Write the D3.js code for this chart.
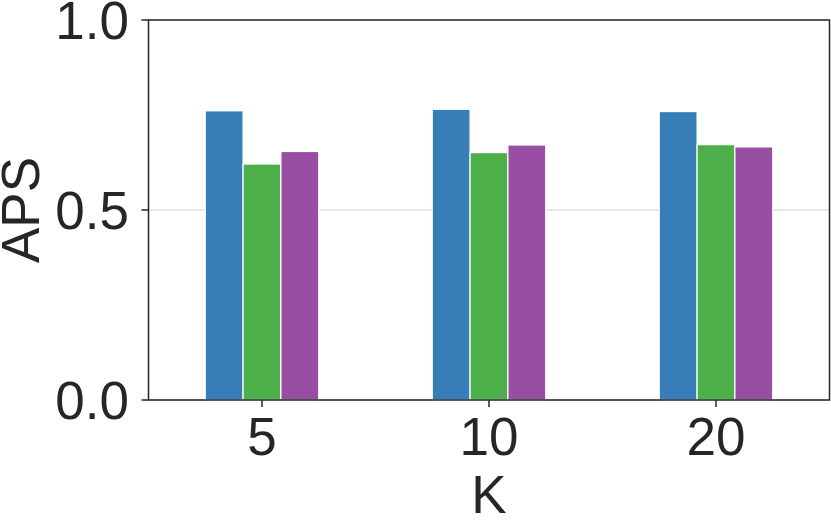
<!DOCTYPE html>
<html><head><meta charset="utf-8">
<script src="https://cdn.jsdelivr.net/npm/d3@7"></script>
<style>body{margin:0;background:#fff}svg{display:block}text{font-family:"Liberation Sans",Arial,sans-serif;fill:#262626}</style>
</head><body>
<svg id="c" width="831" height="524"></svg>
<script>
const categories = ["5", "10", "20"];
const seriesA = [0.761, 0.765, 0.759];
const seriesB = [0.621, 0.651, 0.672];
const seriesC = [0.654, 0.671, 0.666];
const yTicks = [0.0, 0.5, 1.0];
const colors = ["#377eb8", "#4daf4a", "#984ea3"];
const series = [seriesA, seriesB, seriesC];

const svg = d3.select("#c");
const L = 148.5, R = 829.5, T = 20, B = 400;
const x = d3.scaleBand().domain(categories).range([L, R]).padding(0);
const y = d3.scaleLinear().domain([0, 1]).range([B, T]);
const fs = 53;

// gridlines
svg.append("g").selectAll("line").data(yTicks).join("line")
  .attr("x1", L).attr("x2", R).attr("y1", d => y(d)).attr("y2", d => y(d))
  .attr("stroke", "#cccccc").attr("stroke-width", 1.2);

// bars
const w = x.bandwidth() / 6;
series.forEach((s, i) => {
  svg.append("g").selectAll("rect").data(s).join("rect")
    .attr("x", (d, j) => x(categories[j]) + x.bandwidth() / 2 + (i - 1.5) * w)
    .attr("width", w)
    .attr("y", d => y(d))
    .attr("height", d => y(0) - y(d))
    .attr("fill", colors[i])
    .attr("stroke", "#ffffff").attr("stroke-width", 1.2);
});

// frame
svg.append("rect").attr("x", L).attr("y", T).attr("width", R - L).attr("height", B - T)
  .attr("fill", "none").attr("stroke", "#262626").attr("stroke-width", 1.5);

// y ticks
const yt = svg.append("g");
yt.selectAll("line").data(yTicks).join("line")
  .attr("x1", L - 7).attr("x2", L).attr("y1", d => y(d)).attr("y2", d => y(d))
  .attr("stroke", "#262626").attr("stroke-width", 1.5);
yt.selectAll("text").data(yTicks).join("text")
  .attr("x", 129).attr("y", d => y(d) + 19).attr("text-anchor", "end")
  .attr("font-size", fs).text(d => d3.format(".1f")(d));

// x ticks
const xt = svg.append("g");
xt.selectAll("line").data(categories).join("line")
  .attr("x1", d => x(d) + x.bandwidth() / 2).attr("x2", d => x(d) + x.bandwidth() / 2)
  .attr("y1", B).attr("y2", B + 7).attr("stroke", "#262626").attr("stroke-width", 1.5);
xt.selectAll("text").data(categories).join("text")
  .attr("x", d => x(d) + x.bandwidth() / 2).attr("y", 455).attr("text-anchor", "middle")
  .attr("font-size", fs).text(d => d);

// axis labels
svg.append("text").attr("x", (L + R) / 2).attr("y", 513).attr("text-anchor", "middle")
  .attr("font-size", fs).text("K");
svg.append("text").attr("transform", `translate(39,${(T + B) / 2}) rotate(-90)`)
  .attr("text-anchor", "middle").attr("font-size", fs).text("APS");
</script>
</body></html>
